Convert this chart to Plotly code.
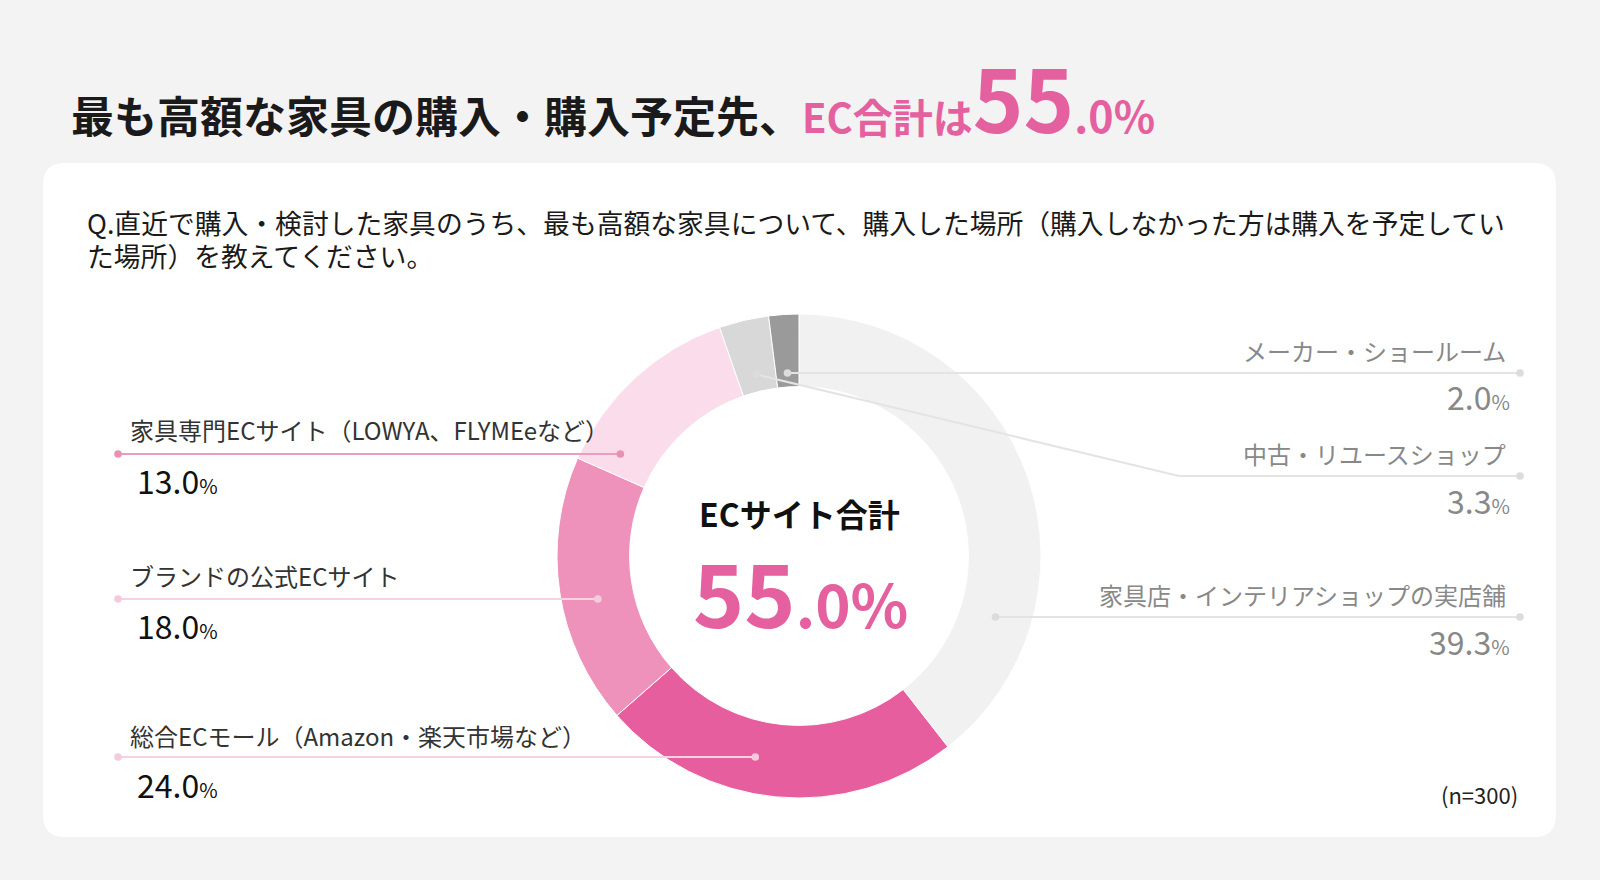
import numpy as np
import plotly.graph_objects as go

# data
categories = [
    "家具店・インテリアショップの実店舗",
    "総合ECモール（Amazon・楽天市場など）",
    "ブランドの公式ECサイト",
    "家具専門ECサイト（LOWYA、FLYMEeなど）",
    "中古・リユースショップ",
    "メーカー・ショールーム",
]
values = [39.3, 24.0, 18.0, 13.0, 3.3, 2.0]
slice_colors = ["#f1f1f1", "#e75e9e", "#ee92bb", "#fadcea", "#d8d8d8", "#9a9a9a"]
ec_total = 55.0
n_total = 300

W, H = 1600, 880
FONT = "Noto Sans CJK JP"
PINK = "#e5609f"

# donut geometry (px)
cx, cy, R = 799, 556, 242
hole = 0.70
r_in = R * hole
r_mid = (R + r_in) / 2

# label placement: side, line y, text y, value y
label_pos = [
    ("right", 617, 594, 641),
    ("left", 757, 735, 784),
    ("left", 599, 575, 625),
    ("left", 454, 429, 480),
    ("right", 476, 453, 500),
    ("right", 373, 350, 396),
]
line_colors = ["#e4e4e4", "#f7d3e2", "#f7d3e2", "#ec9cc0", "#e4e4e4", "#e4e4e4"]
dot_colors = ["#dcdcdc", "#f5cadc", "#f5cadc", "#e990b6", "#dcdcdc", "#dcdcdc"]
left_x, right_x = 118, 1520
elbow_x = 1179

total = sum(values)
edges = np.concatenate([[0], np.cumsum(values)]) / total * 360.0


def pt(theta, r):
    t = np.radians(theta)
    return cx + r * np.sin(t), cy - r * np.cos(t)


def anchor(i, line_y, side):
    a0, a1 = edges[i], edges[i + 1]
    c = (cy - line_y) / r_mid
    if abs(c) <= 1:
        th = np.degrees(np.arccos(c))
        cands = (th, 360 - th) if side == "right" else (360 - th, th)
        for cand in cands:
            if a0 <= cand <= a1:
                return pt(cand, r_mid), False
    am = (a0 + a1) / 2
    ca = np.cos(np.radians(am))
    if abs(ca) > 1e-6:
        r = (cy - line_y) / ca
        if r_in + 8 <= r <= R - 8:
            return pt(am, r), False
    return pt(am, r_in + 17), True


fig = go.Figure()

fig.add_trace(go.Pie(
    labels=categories, values=values, sort=False, direction="clockwise",
    rotation=0, hole=hole, marker=dict(colors=slice_colors, line=dict(color="white", width=1)),
    textinfo="none", hoverinfo="label+percent", showlegend=False,
    domain=dict(x=[(cx - R) / W, (cx + R) / W], y=[1 - (cy + R) / H, 1 - (cy - R) / H]),
))

shapes = []
# card
x0, y0, x1, y1, rr = 43, 163, 1556, 837, 22
card = (f"M{x0+rr},{y0} L{x1-rr},{y0} Q{x1},{y0} {x1},{y0+rr} L{x1},{y1-rr} Q{x1},{y1} {x1-rr},{y1} "
        f"L{x0+rr},{y1} Q{x0},{y1} {x0},{y1-rr} L{x0},{y0+rr} Q{x0},{y0} {x0+rr},{y0} Z")
shapes.append(dict(type="path", path=card, xref="x", yref="y", fillcolor="white",
                   line=dict(width=0), layer="below"))

annotations = []
for i, (side, ly, ty, vy) in enumerate(label_pos):
    (ax, ay), elbow = anchor(i, ly, side)
    end_x = left_x if side == "left" else right_x
    if elbow:
        path = f"M{ax},{ay} L{elbow_x},{ly} L{end_x},{ly}"
    else:
        path = f"M{ax},{ay} L{end_x},{ly}"
    shapes.append(dict(type="path", path=path, xref="x", yref="y",
                       line=dict(color=line_colors[i], width=2), layer="above"))
    for (px, py) in ((ax, ay), (end_x, ly)):
        shapes.append(dict(type="circle", xref="x", yref="y", x0=px - 3.8, x1=px + 3.8,
                           y0=py - 3.8, y1=py + 3.8, fillcolor=dot_colors[i],
                           line=dict(width=0), layer="above"))
    if side == "left":
        tc, tx, vx, anc = "#333333", 128, 135, "left"
        vc = "#111111"
    else:
        tc, tx, vx, anc = "#888888", 1508, 1512, "right"
        vc = "#888888"
    annotations.append(dict(x=tx, y=ty, xref="x", yref="y", text=categories[i], showarrow=False,
                            xanchor=anc, yanchor="middle", font=dict(family=FONT, size=24, color=tc)))
    annotations.append(dict(x=vx, y=vy, xref="x", yref="y", showarrow=False,
                            text=f"{values[i]:.1f}<span style='font-size:20px'>%</span>",
                            xanchor=anc, yanchor="middle", font=dict(family=FONT, size=32, color=vc)))

# title
whole, frac = f"{ec_total:.1f}".split(".")
annotations.append(dict(
    x=69, y=160, xref="x", yref="y", xanchor="left", yanchor="bottom", showarrow=False,
    text=("<b>最も高額な家具の購入・購入予定先、</b>"
          f"<b><span style='color:{PINK};font-size:40px'>EC合計は</span>"
          f"<span style='color:{PINK};font-size:86px'>{whole}</span>"
          f"<span style='color:{PINK};font-size:43px'>.{frac}%</span></b>"),
    font=dict(family=FONT, size=43, color="#1a1a1a"),
))

# question
annotations.append(dict(x=85, y=222, xref="x", yref="y", xanchor="left", yanchor="middle", showarrow=False,
                        text="Q.直近で購入・検討した家具のうち、最も高額な家具について、購入した場所（購入しなかった方は購入を予定してい",
                        font=dict(family=FONT, size=26.8, color="#1a1a1a")))
annotations.append(dict(x=85, y=255, xref="x", yref="y", xanchor="left", yanchor="middle", showarrow=False,
                        text="た場所）を教えてください。",
                        font=dict(family=FONT, size=26.8, color="#1a1a1a")))

# center
annotations.append(dict(x=cx, y=513, xref="x", yref="y", xanchor="center", yanchor="middle", showarrow=False,
                        text="<b>ECサイト合計</b>", font=dict(family=FONT, size=32, color="#111111")))
annotations.append(dict(x=cx + 1, y=590, xref="x", yref="y", xanchor="center", yanchor="middle", showarrow=False,
                        text=f"<b>{whole}<span style='font-size:60px'>.{frac}%</span></b>",
                        font=dict(family=FONT, size=87, color=PINK)))

annotations.append(dict(x=1520, y=794, xref="x", yref="y", xanchor="right", yanchor="middle", showarrow=False,
                        text=f"(n={n_total})", font=dict(family=FONT, size=22, color="#222222")))

fig.update_layout(
    width=W, height=H, margin=dict(l=0, r=0, t=0, b=0),
    paper_bgcolor="#f3f3f3", plot_bgcolor="rgba(0,0,0,0)",
    xaxis=dict(range=[0, W], visible=False, fixedrange=True),
    yaxis=dict(range=[H, 0], visible=False, fixedrange=True),
    shapes=shapes, annotations=annotations,
)

fig.write_html("out.html", config={"displayModeBar": False},
               post_script="document.body.style.margin='0';")
